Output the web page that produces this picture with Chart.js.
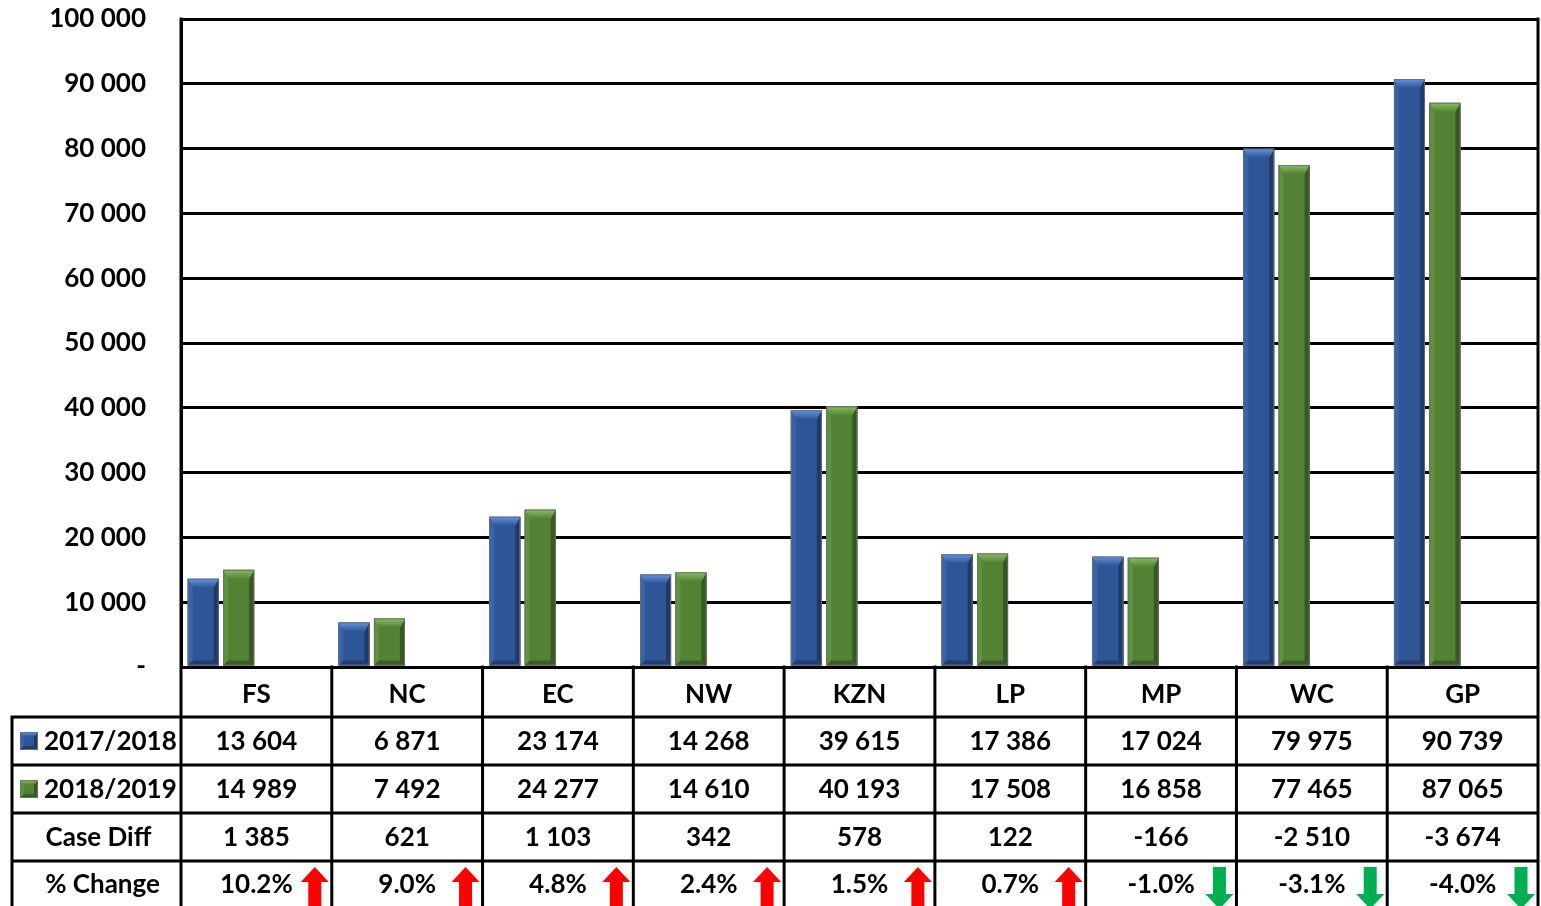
<!DOCTYPE html>
<html>
<head>
<meta charset="utf-8">
<script src="https://cdn.jsdelivr.net/npm/chart.js@4/dist/chart.umd.min.js"></script>
<style>
  html, body { margin: 0; padding: 0; background: #fff; }
  canvas { display: block; }
</style>
</head>
<body>
<canvas id="chart" width="1541" height="906"></canvas>
<script>
// Cases per province, two financial years
const categories = ['FS', 'NC', 'EC', 'NW', 'KZN', 'LP', 'MP', 'WC', 'GP'];
const cases2017 = [13604, 6871, 23174, 14268, 39615, 17386, 17024, 79975, 90739];
const cases2018 = [14989, 7492, 24277, 14610, 40193, 17508, 16858, 77465, 87065];
const caseDiff = [1385, 621, 1103, 342, 578, 122, -166, -2510, -3674];
const pctChange = [10.2, 9.0, 4.8, 2.4, 1.5, 0.7, -1.0, -3.1, -4.0];
const seriesLabels = ['2017/2018', '2018/2019'];
const rowLabels = ['Case Diff', '% Change'];
const yTicks = [0, 10000, 20000, 30000, 40000, 50000, 60000, 70000, 80000, 90000, 100000];

const FONT = 'Lato, "Open Sans", sans-serif';
const BLUE = { body: '#2E5596', top: '#6393E0', left: '#3863AB', right: '#1E396A', bottom: '#213E72' };
const GREEN = { body: '#548235', top: '#88C060', left: '#5E9140', right: '#365821', bottom: '#3A5E25' };
const palettes = [BLUE, GREEN];

function fmt(n) {
  const s = Math.abs(n).toString().replace(/\B(?=(\d{3})+(?!\d))/g, ' ');
  return (n < 0 ? '-' : '') + s;
}

// Bevelled block: lighter top/left facets, darker right/bottom facets
function bevel(ctx, l, t, r, b, p, side, topH) {
  const s = Math.min(side, (r - l) / 3);
  const th = Math.min(topH, (b - t) / 2);
  const bh = Math.min(s, (b - t) / 2);
  ctx.save();
  ctx.fillStyle = p.body;
  ctx.fillRect(l, t, r - l, b - t);
  const poly = (pts, c) => {
    ctx.beginPath();
    ctx.moveTo(pts[0][0], pts[0][1]);
    for (let i = 1; i < pts.length; i++) ctx.lineTo(pts[i][0], pts[i][1]);
    ctx.closePath();
    ctx.fillStyle = c;
    ctx.fill();
  };
  poly([[l, t], [l + s, t + th], [l + s, b - bh], [l, b]], p.left);
  poly([[r, t], [r - s, t + th], [r - s, b - bh], [r, b]], p.right);
  poly([[l, b], [l + s, b - bh], [r - s, b - bh], [r, b]], p.bottom);
  const g = ctx.createLinearGradient(0, t, 0, t + th);
  g.addColorStop(0, p.top);
  g.addColorStop(1, p.body);
  poly([[l, t], [r, t], [r - s, t + th], [l + s, t + th]], g);
  ctx.strokeStyle = 'rgba(110,110,110,0.9)';
  ctx.lineWidth = 1;
  ctx.strokeRect(l + 0.5, t + 0.5, r - l - 1, b - t - 1);
  ctx.restore();
}

const bevelBars = {
  id: 'bevelBars',
  afterDatasetsDraw(chart) {
    const ctx = chart.ctx;
    [0, 1].forEach(di => {
      const meta = chart.getDatasetMeta(di);
      meta.data.forEach(el => {
        const { x, y, base, width } = el.getProps(['x', 'y', 'base', 'width'], true);
        bevel(ctx, x - width / 2, y, x + width / 2, base, palettes[di], 5, 9);
      });
    });
  }
};

function arrow(ctx, cx, top, h, up, color) {
  const headW = 28, headH = 15, shaftW = 13;
  ctx.save();
  ctx.fillStyle = color;
  ctx.beginPath();
  if (up) {
    ctx.moveTo(cx, top);
    ctx.lineTo(cx + headW / 2, top + headH);
    ctx.lineTo(cx + shaftW / 2, top + headH);
    ctx.lineTo(cx + shaftW / 2, top + h);
    ctx.lineTo(cx - shaftW / 2, top + h);
    ctx.lineTo(cx - shaftW / 2, top + headH);
    ctx.lineTo(cx - headW / 2, top + headH);
  } else {
    const bot = top + h;
    ctx.moveTo(cx - shaftW / 2, top);
    ctx.lineTo(cx + shaftW / 2, top);
    ctx.lineTo(cx + shaftW / 2, bot - headH);
    ctx.lineTo(cx + headW / 2, bot - headH);
    ctx.lineTo(cx, bot);
    ctx.lineTo(cx - headW / 2, bot - headH);
    ctx.lineTo(cx - shaftW / 2, bot - headH);
  }
  ctx.closePath();
  ctx.fill();
  ctx.restore();
}

// Data table under the plot, aligned to the category axis
const dataTable = {
  id: 'dataTable',
  afterDraw(chart) {
    const ctx = chart.ctx;
    const xs = chart.scales.x;
    const area = chart.chartArea;
    const half = (area.right - area.left) / categories.length / 2;
    const tableLeft = 12;
    const rows = [area.bottom, area.bottom + 50, area.bottom + 98, area.bottom + 146, area.bottom + 194, area.bottom + 242];
    ctx.save();
    ctx.strokeStyle = '#000';
    ctx.lineWidth = 3;
    ctx.lineCap = 'square';
    // horizontal rules
    ctx.beginPath();
    for (let i = 1; i < rows.length; i++) {
      ctx.moveTo(tableLeft, rows[i]);
      ctx.lineTo(area.right, rows[i]);
    }
    // column rules
    for (let i = 0; i <= categories.length; i++) {
      const x = i < categories.length ? xs.getPixelForValue(i) - half : xs.getPixelForValue(i - 1) + half;
      ctx.moveTo(x, i === 0 || i === categories.length ? area.top : rows[0]);
      ctx.lineTo(x, rows[rows.length - 1]);
    }
    ctx.moveTo(tableLeft, rows[1]);
    ctx.lineTo(tableLeft, rows[rows.length - 1]);
    ctx.stroke();

    ctx.fillStyle = '#000';
    ctx.font = 'bold 26px ' + FONT;
    ctx.textBaseline = 'middle';
    const rowValues = [cases2017, cases2018, caseDiff];
    rowValues.forEach((vals, r) => {
      const cy = (rows[r + 1] + rows[r + 2]) / 2;
      ctx.textAlign = 'center';
      vals.forEach((v, i) => ctx.fillText(fmt(v), xs.getPixelForValue(i), cy + 1));
    });
    const pctY = (rows[4] + rows[5]) / 2;
    ctx.textAlign = 'center';
    pctChange.forEach((v, i) => ctx.fillText(v.toFixed(1) + '%', xs.getPixelForValue(i), pctY));

    // row headers
    [0, 1].forEach(r => {
      const cy = (rows[r + 1] + rows[r + 2]) / 2;
      bevel(ctx, 20, cy - 9, 38, cy + 9, palettes[r], 4, 5);
      ctx.fillStyle = '#000';
      ctx.textAlign = 'left';
      ctx.fillText(seriesLabels[r], 44, cy + 1);
    });
    ctx.textAlign = 'center';
    ctx.fillText(rowLabels[0], (tableLeft + area.left) / 2 + 2, (rows[3] + rows[4]) / 2 + 1);
    ctx.fillText(rowLabels[1], (tableLeft + area.left) / 2 + 6, pctY);

    // direction arrows
    pctChange.forEach((v, i) => {
      const right = xs.getPixelForValue(i) + half;
      const up = v >= 0;
      arrow(ctx, right - 17, rows[4] + 6, 42, up, up ? '#FF0000' : '#00B050');
    });
    ctx.restore();
  }
};

new Chart(document.getElementById('chart'), {
  type: 'bar',
  data: {
    labels: categories,
    datasets: [
      { label: seriesLabels[0], data: cases2017, backgroundColor: BLUE.body, borderWidth: 0 },
      { label: seriesLabels[1], data: cases2018, backgroundColor: GREEN.body, borderWidth: 0 },
      // two empty slots keep the pair on the left side of each column
      { label: '', data: categories.map(() => null) },
      { label: '', data: categories.map(() => null) }
    ]
  },
  options: {
    responsive: false,
    devicePixelRatio: 1,
    animation: false,
    layout: { padding: { top: 19, right: 3, left: 0, bottom: 0 } },
    datasets: { bar: { categoryPercentage: 0.94, barPercentage: 0.875 } },
    plugins: { legend: { display: false }, tooltip: { enabled: false } },
    scales: {
      x: {
        grid: { display: false, drawTicks: false },
        border: { display: false },
        ticks: {
          color: '#000', font: { family: FONT, size: 26, weight: 'bold' },
          padding: 12, autoSkip: false, maxRotation: 0
        },
        afterFit(scale) {
          scale.height = 239;
          scale.paddingLeft = 0;
          scale.paddingRight = 0;
        }
      },
      y: {
        min: 0, max: 100000,
        afterBuildTicks(scale) { scale.ticks = yTicks.map(v => ({ value: v })); },
        grid: { color: '#000', lineWidth: 3, drawTicks: false },
        border: { color: '#000', width: 3 },
        ticks: {
          color: '#000', font: { family: FONT, size: 26, weight: 'bold' },
          padding: 35,
          callback: v => v === 0 ? '-' : fmt(v)
        },
        afterFit(scale) {
          scale.width = 181;
          scale.paddingTop = 0;
          scale.paddingBottom = 0;
        }
      }
    }
  },
  plugins: [bevelBars, dataTable]
});
</script>
</body>
</html>
